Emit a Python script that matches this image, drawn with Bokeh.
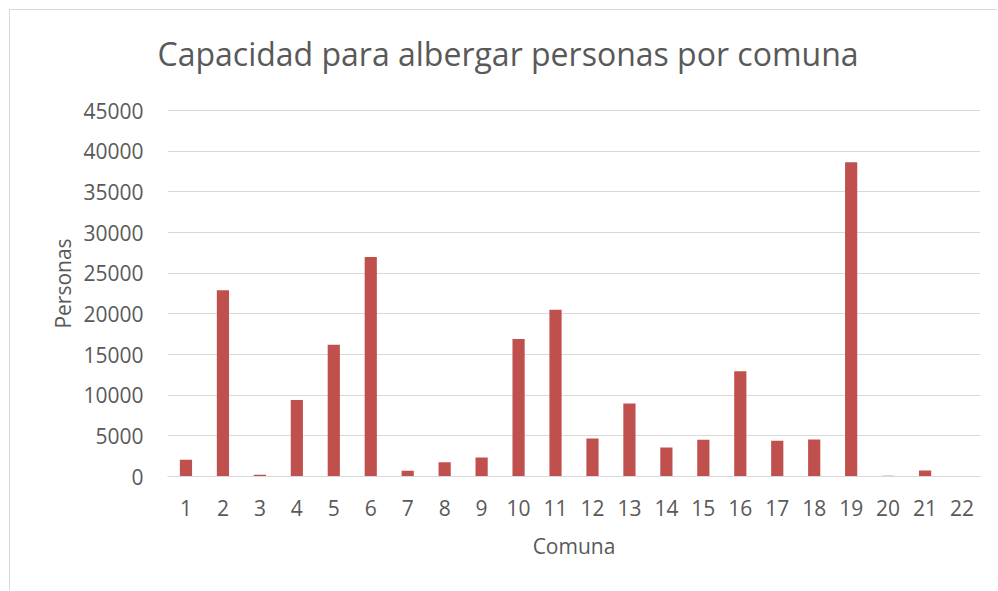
from bokeh.plotting import figure
from bokeh.models import FactorRange, Range1d, SingleIntervalTicker, ColumnDataSource, InlineStyleSheet
from bokeh.embed import file_html
from bokeh.resources import INLINE

comunas = [str(i) for i in range(1, 23)]
personas = [2050, 22900, 200, 9400, 16200, 27000, 700, 1760, 2340, 16900, 20500,
            4670, 8980, 3570, 4510, 12950, 4390, 4550, 38650, 100, 740, 0]

title_text = "Capacidad para albergar personas por comuna"
x_label = "Comuna"
y_label = "Personas"

FONT = "Open Sans"
TXT = "#595959"

# frame extends a little above the 45000 gridline to leave room for the title
Y_END = 47460

src = ColumnDataSource(dict(x=comunas, y=personas))

p = figure(width=988, height=581, x_range=FactorRange(*comunas), y_range=Range1d(0, Y_END),
           output_backend="svg", toolbar_location=None,
           min_border_left=157, min_border_right=18, min_border_top=80, min_border_bottom=115)
p.margin = (10, 0, 0, 10)
p.stylesheets = [InlineStyleSheet(css=":host { box-shadow: -1px -1px 0 0 #D9D9D9; }")]

p.vbar(x="x", top="y", width=0.33, source=src, fill_color="#C0504D", line_color=None)

p.title.text = title_text
p.title.text_font = FONT
p.title.text_font_size = "32px"
p.title.text_font_style = "normal"
p.title.text_color = TXT
p.title.align = "left"
p.title.offset = -10
p.title.standoff = 32

p.outline_line_color = None
p.xgrid.grid_line_color = None
p.ygrid.grid_line_color = "#D9D9D9"
p.ygrid.grid_line_width = 1

p.yaxis.ticker = SingleIntervalTicker(interval=5000)
p.yaxis.axis_line_color = None
p.yaxis.major_tick_line_color = None
p.yaxis.minor_tick_line_color = None
p.yaxis.major_label_text_font = FONT
p.yaxis.major_label_text_font_size = "21px"
p.yaxis.major_label_text_color = TXT
p.yaxis.major_label_standoff = 18
p.yaxis.axis_label = y_label
p.yaxis.axis_label_text_font = FONT
p.yaxis.axis_label_text_font_size = "21px"
p.yaxis.axis_label_text_font_style = "normal"
p.yaxis.axis_label_text_color = TXT
p.yaxis.axis_label_standoff = 3

p.xaxis.axis_line_color = "#D9D9D9"
p.xaxis.major_tick_line_color = None
p.xaxis.minor_tick_line_color = None
p.xaxis.major_label_text_font = FONT
p.xaxis.major_label_text_font_size = "21px"
p.xaxis.major_label_text_color = TXT
p.xaxis.major_label_standoff = 17
p.xaxis.axis_label = x_label
p.xaxis.axis_label_text_font = FONT
p.xaxis.axis_label_text_font_size = "21px"
p.xaxis.axis_label_text_font_style = "normal"
p.xaxis.axis_label_text_color = TXT
p.xaxis.axis_label_standoff = 13

open("out.html", "w").write(file_html(p, INLINE))
